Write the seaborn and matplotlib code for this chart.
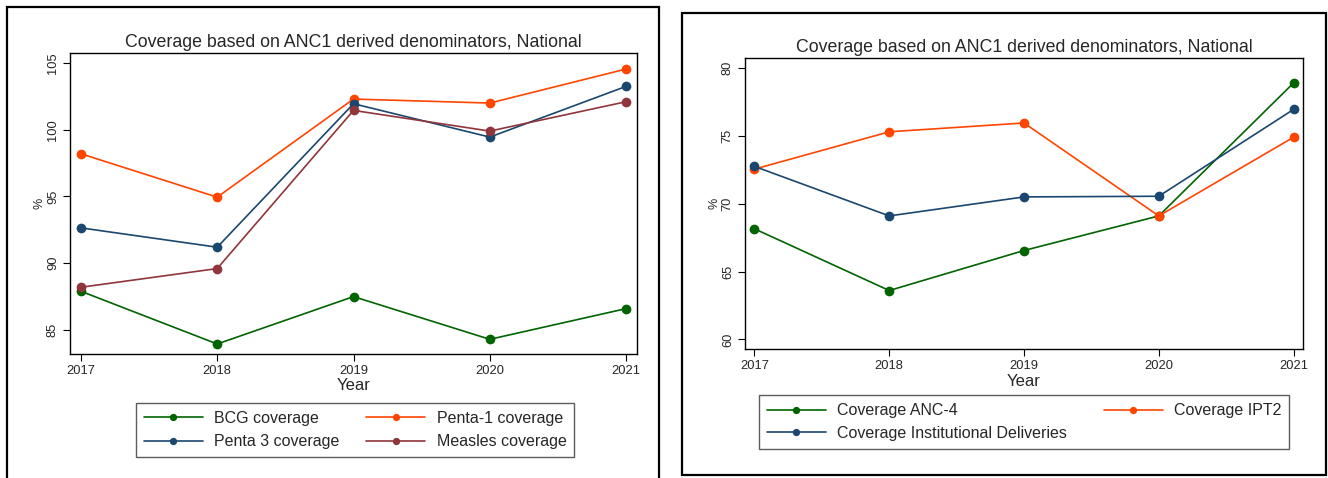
import pandas as pd
import seaborn as sns
import matplotlib.pyplot as plt
from matplotlib.patches import Rectangle

years = [2017, 2018, 2019, 2020, 2021]

# left panel - immunisation
bcg = [87.9, 83.95, 87.5, 84.3, 86.6]
penta1 = [98.2, 94.95, 102.3, 102.0, 104.55]
penta3 = [92.65, 91.2, 101.95, 99.45, 103.25]
measles = [88.2, 89.6, 101.45, 99.9, 102.1]

# right panel - maternal
anc4 = [68.15, 63.6, 66.55, 69.1, 78.9]
ipt2 = [72.55, 75.3, 75.95, 69.1, 74.9]
inst_del = [72.75, 69.1, 70.5, 70.55, 76.95]

title = 'Coverage based on ANC1 derived denominators, National'

green = '#006400'
orange = '#FF4500'
navy = '#1A476F'
maroon = '#90353B'

left_df = pd.DataFrame({
    'Year': years * 4,
    'value': bcg + penta1 + penta3 + measles,
    'series': ['BCG coverage'] * 5 + ['Penta-1 coverage'] * 5
              + ['Penta 3 coverage'] * 5 + ['Measles coverage'] * 5,
})
right_df = pd.DataFrame({
    'Year': years * 3,
    'value': anc4 + ipt2 + inst_del,
    'series': ['Coverage ANC-4'] * 5 + ['Coverage IPT2'] * 5
              + ['Coverage Institutional Deliveries'] * 5,
})

sns.set_style('white')
plt.rcParams['font.family'] = ['Liberation Sans', 'DejaVu Sans']

W, H = 1328, 478
fig = plt.figure(figsize=(W / 100, H / 100), dpi=100)

def px_axes(x0, x1, top, bottom):
    return fig.add_axes([x0 / W, (H - bottom) / H, (x1 - x0) / W, (bottom - top) / H])

# outer frames
fig.patches.append(Rectangle((7 / W, -0.05), (659 - 7) / W, (H - 7) / H + 0.05,
                             transform=fig.transFigure, fill=False, ec='black', lw=1.6))
fig.patches.append(Rectangle((682 / W, (H - 475) / H), (1326 - 682) / W, (475 - 13) / H,
                             transform=fig.transFigure, fill=False, ec='black', lw=1.6))

ax1 = px_axes(70, 637, 53, 354)
ax2 = px_axes(745, 1303, 58, 349)

pal1 = {'BCG coverage': green, 'Penta-1 coverage': orange,
        'Penta 3 coverage': navy, 'Measles coverage': maroon}
pal2 = {'Coverage ANC-4': green, 'Coverage IPT2': orange,
        'Coverage Institutional Deliveries': navy}

sns.lineplot(data=left_df, x='Year', y='value', hue='series', palette=pal1,
             marker='o', markersize=7, markeredgewidth=0, linewidth=1.2, ax=ax1)
sns.lineplot(data=right_df, x='Year', y='value', hue='series', palette=pal2,
             marker='o', markersize=7, markeredgewidth=0, linewidth=1.2, ax=ax2)

ax1.set_ylim(83.2, 105.75)
ax1.set_yticks([85, 90, 95, 100, 105])
ax1.set_xlim(2016.92, 2021.08)
ax2.set_ylim(59.29, 80.74)
ax2.set_yticks([60, 65, 70, 75, 80])
ax2.set_xlim(2016.93, 2021.07)

for ax in (ax1, ax2):
    ax.set_xticks(years)
    ax.set_xticklabels([str(y) for y in years])
    ax.tick_params(axis='both', which='both', direction='out', length=5, width=0.8,
                   labelsize=9.3, bottom=True, left=True, color='black', pad=3)
    for lab in ax.get_yticklabels():
        lab.set_rotation(90)
        lab.set_va('center')
    for s in ax.spines.values():
        s.set_color('black')
        s.set_linewidth(1.0)
    ax.set_title(title, fontsize=12.8, pad=4)
    ax.set_xlabel('Year', fontsize=12, labelpad=1)
    ax.set_ylabel('%', fontsize=9, labelpad=1)
    ax.get_legend().remove()

h1, l1 = ax1.get_legend_handles_labels()
d1 = dict(zip(l1, h1))
order1 = ['BCG coverage', 'Penta 3 coverage', 'Penta-1 coverage', 'Measles coverage']
leg1 = fig.legend([d1[k] for k in order1], order1, ncol=2,
                  loc='center', bbox_to_anchor=((132 + 578) / 2 / W, 1 - 430 / H),
                  fontsize=11.5, frameon=True, fancybox=False, edgecolor='#333333',
                  handlelength=3.7, markerscale=0.75, columnspacing=1.7,
                  labelspacing=0.55, borderpad=0.5, handletextpad=0.7)
leg1.get_frame().set_linewidth(1.0)

h2, l2 = ax2.get_legend_handles_labels()
d2 = dict(zip(l2, h2))
order2 = ['Coverage ANC-4', 'Coverage Institutional Deliveries', 'Coverage IPT2']
leg2 = fig.legend([d2[k] for k in order2], order2, ncol=2,
                  loc='center', bbox_to_anchor=((763 + 1285) / 2 / W, 1 - 422 / H),
                  fontsize=11.5, frameon=True, fancybox=False, edgecolor='#333333',
                  handlelength=3.7, markerscale=0.75, columnspacing=2.3,
                  labelspacing=0.45, borderpad=0.5, handletextpad=0.7)
leg2.get_frame().set_linewidth(1.0)

fig.savefig('out.png', dpi=100)
